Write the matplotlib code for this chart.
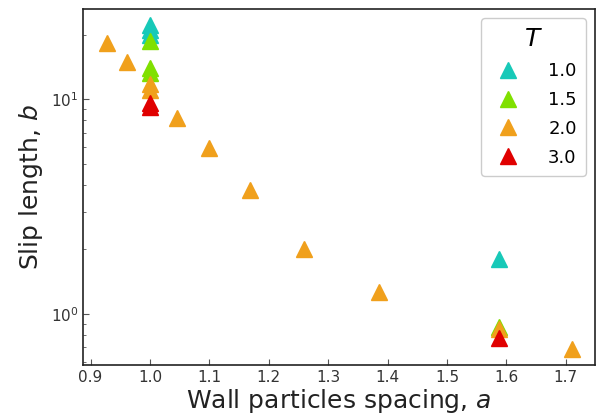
import matplotlib
matplotlib.use("Agg")
import matplotlib.pyplot as plt

# slip length data per temperature
a_T10 = [1.0, 1.0, 1.0, 1.587]
b_T10 = [22.1, 21.0, 20.0, 1.81]

a_T15 = [1.0, 1.0, 1.0, 1.587]
b_T15 = [18.6, 14.0, 13.2, 0.866]

a_T20 = [0.928, 0.962, 1.0, 1.0, 1.045, 1.1, 1.169, 1.26, 1.386, 1.587, 1.71]
b_T20 = [18.3, 14.9, 11.8, 11.0, 8.2, 5.93, 3.78, 2.0, 1.265, 0.853, 0.69]

a_T30 = [1.0, 1.0, 1.587]
b_T30 = [9.6, 9.25, 0.776]

series = [
    ("1.0", a_T10, b_T10, "#17c9b8"),
    ("1.5", a_T15, b_T15, "#80e000"),
    ("2.0", a_T20, b_T20, "#f0a01c"),
    ("3.0", a_T30, b_T30, "#e00000"),
]

fig, ax = plt.subplots(figsize=(5.96, 4.16), dpi=100)
fig.subplots_adjust(left=0.14, right=0.998, top=0.978, bottom=0.123)

for lab, x, y, c in series:
    ax.plot(x, y, linestyle="none", marker="^", markersize=12, color=c, label=lab)

ax.set_yscale("log")
ax.set_xlim(0.888, 1.749)
ax.set_ylim(0.58, 26.3)
ax.set_xticks([0.9, 1.0, 1.1, 1.2, 1.3, 1.4, 1.5, 1.6, 1.7])
ax.tick_params(which="both", direction="in", labelsize=11, labelcolor="#333333", color="#555555")
ax.tick_params(which="major", length=4)
ax.tick_params(which="minor", length=2.5)
for s in ax.spines.values():
    s.set_color("#222222")
    s.set_linewidth(1.2)

ax.set_xlabel("Wall particles spacing, $a$", fontsize=18, color="#222222", labelpad=2)
ax.set_ylabel("Slip length, $b$", fontsize=18, color="#222222")

leg = ax.legend(title="$T$", fontsize=13, title_fontsize=18, loc="upper right",
                markerscale=1.0, handletextpad=1.2, labelspacing=0.6,
                borderpad=0.5, framealpha=1)
leg.get_frame().set_edgecolor("#cccccc")

fig.savefig("out.png", dpi=100)
